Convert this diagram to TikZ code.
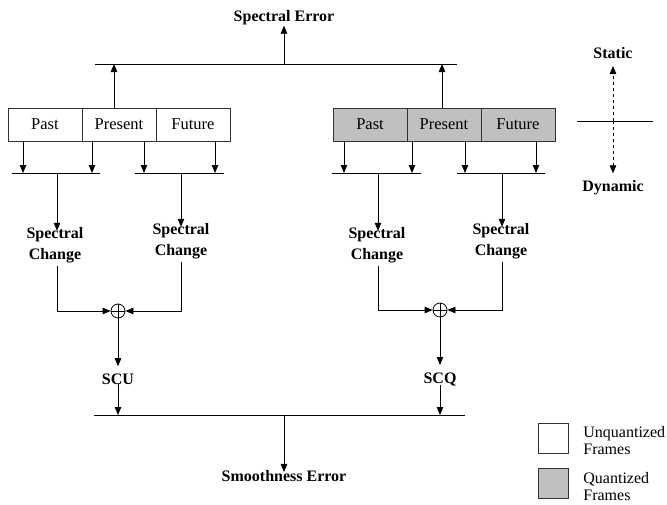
\documentclass[tikz,border=0pt]{standalone}
\usepackage{fontspec}
\setmainfont{Liberation Serif}
\usetikzlibrary{arrows.meta}
\definecolor{qgray}{RGB}{192,192,192}
\definecolor{edge}{RGB}{50,50,50}
\begin{document}
\begin{tikzpicture}[x=1pt,y=-1pt,
  line width=0.8pt,
  arr/.style={-{Triangle[width=6.5pt,length=8pt]}},
  frame/.style={draw=edge, minimum width=74pt, minimum height=33pt, inner sep=0pt,
    font=\fontsize{16.5}{18}\selectfont},
  qframe/.style={frame, fill=qgray},
  lbl/.style={font=\bfseries\fontsize{16}{21}\selectfont, align=center, inner sep=1pt},
  legtext/.style={font=\fontsize{16}{17}\selectfont, align=left, anchor=west, inner sep=0pt},
  legbox/.style={draw=edge, minimum width=30pt, minimum height=30pt, inner sep=0pt},
  sumnode/.style={circle, draw, minimum size=14pt, inner sep=0pt,
    path picture={\draw (path picture bounding box.north) -- (path picture bounding box.south)
      (path picture bounding box.west) -- (path picture bounding box.east);}}
]
\useasboundingbox (0,0) rectangle (667,504);

% top
\node[lbl] (serr) at (284,18) {Spectral Error};
\coordinate (t1) at (95,64);
\coordinate (t2) at (457,64);
\coordinate (tm) at (284,64);
\draw (t1) -- (t2);
\draw[arr] (tm) -- ([yshift=1pt]serr.south);

% unquantized frames
\node[frame] (upa) at (45,124.5) {Past};
\node[frame] (upr) at (119,124.5) {Present};
\node[frame] (ufu) at (193,124.5) {Future};
% quantized frames
\node[qframe] (qpa) at (370,124.5) {Past};
\node[qframe] (qpr) at (444,124.5) {Present};
\node[qframe] (qfu) at (518,124.5) {Future};

\draw[arr] ([xshift=-5pt]upr.north) -- ([xshift=-5pt]upr.north |- t1);
\draw[arr] ([xshift=-2pt]qpr.north) -- ([xshift=-2pt]qpr.north |- t2);

% bars
\coordinate (b1a) at (12,173);  \coordinate (b1b) at (100,173); \coordinate (b1m) at (57,173);
\coordinate (b2a) at (135,173); \coordinate (b2b) at (224,173); \coordinate (b2m) at (181,173);
\coordinate (b3a) at (332,173); \coordinate (b3b) at (421,173); \coordinate (b3m) at (378,173);
\coordinate (b4a) at (457,173); \coordinate (b4b) at (545,173); \coordinate (b4m) at (502,173);
\draw (b1a) -- (b1b);
\draw (b2a) -- (b2b);
\draw (b3a) -- (b3b);
\draw (b4a) -- (b4b);

\draw[arr] ([xshift=-22pt]upa.south) -- ([xshift=-22pt]upa.south |- b1a);
\draw[arr] ([xshift=-27pt]upr.south) -- ([xshift=-27pt]upr.south |- b1a);
\draw[arr] ([xshift=25pt]upr.south) -- ([xshift=25pt]upr.south |- b2a);
\draw[arr] ([xshift=22pt]ufu.south) -- ([xshift=22pt]ufu.south |- b2a);
\draw[arr] ([xshift=-26pt]qpa.south) -- ([xshift=-26pt]qpa.south |- b3a);
\draw[arr] ([xshift=-32pt]qpr.south) -- ([xshift=-32pt]qpr.south |- b3a);
\draw[arr] ([xshift=21pt]qpr.south) -- ([xshift=21pt]qpr.south |- b4a);
\draw[arr] ([xshift=18pt]qfu.south) -- ([xshift=18pt]qfu.south |- b4a);

% spectral change
\node[lbl] (sc1) at (55,245) {Spectral\\Change};
\node[lbl] (sc2) at (181,241) {Spectral\\Change};
\node[lbl] (sc3) at (377,245) {Spectral\\Change};
\node[lbl] (sc4) at (501,241) {Spectral\\Change};
\draw[arr] (b1m) -- ([yshift=-5pt]b1m |- sc1.north);
\draw[arr] (b2m) -- ([yshift=-5pt]b2m |- sc2.north);
\draw[arr] (b3m) -- ([yshift=-5pt]b3m |- sc3.north);
\draw[arr] (b4m) -- ([yshift=-5pt]b4m |- sc4.north);

% summing junctions
\node[sumnode] (s1) at (118,311) {};
\node[sumnode] (s2) at (440,310) {};
\draw[arr] ([yshift=-2pt]b1m |- sc1.south) |- (s1.west);
\draw[arr] ([yshift=-2pt]b2m |- sc2.south) |- (s1.east);
\draw[arr] ([yshift=-2pt]b3m |- sc3.south) |- (s2.west);
\draw[arr] ([yshift=-2pt]b4m |- sc4.south) |- (s2.east);

\node[lbl] (scu) at (118,379) {SCU};
\node[lbl] (scq) at (440,379) {SCQ};
\draw[arr, shorten >=6pt] (s1.south) -- (scu.north);
\draw[arr, shorten >=6pt] (s2.south) -- (scq.north);

% bottom
\coordinate (bb1) at (94,415);
\coordinate (bb2) at (465,415);
\coordinate (bbm) at (284,415);
\draw (bb1) -- (bb2);
\draw[arr] ([yshift=2pt]scu.south) -- (scu.south |- bb1);
\draw[arr] ([yshift=2pt]scq.south) -- (scq.south |- bb1);
\node[lbl] (smooth) at (284,476) {Smoothness Error};
\draw[arr] (bbm) -- ([yshift=-3pt]smooth.north);

% static / dynamic
\node[lbl] (st) at (613,53) {Static};
\node[lbl] (dy) at (613,188) {Dynamic};
\coordinate (cr) at (613,121);
\coordinate (h1) at (577,121);
\coordinate (h2) at (653,121);
\draw (h1) -- (h2);
\draw[arr, dashed, shorten >=6pt] (cr) -- (st.south);
\draw[arr, dashed, shorten >=6pt] (cr) -- (dy.north);

% legend
\node[legbox] (lw) at (553,438) {};
\node[legbox, fill=qgray] (lg) at (553,483) {};
\node[legtext] (lwt) at (583,441) {Unquantized\\Frames};
\node[legtext] (lgt) at (583,487) {Quantized\\Frames};
\end{tikzpicture}
\end{document}
